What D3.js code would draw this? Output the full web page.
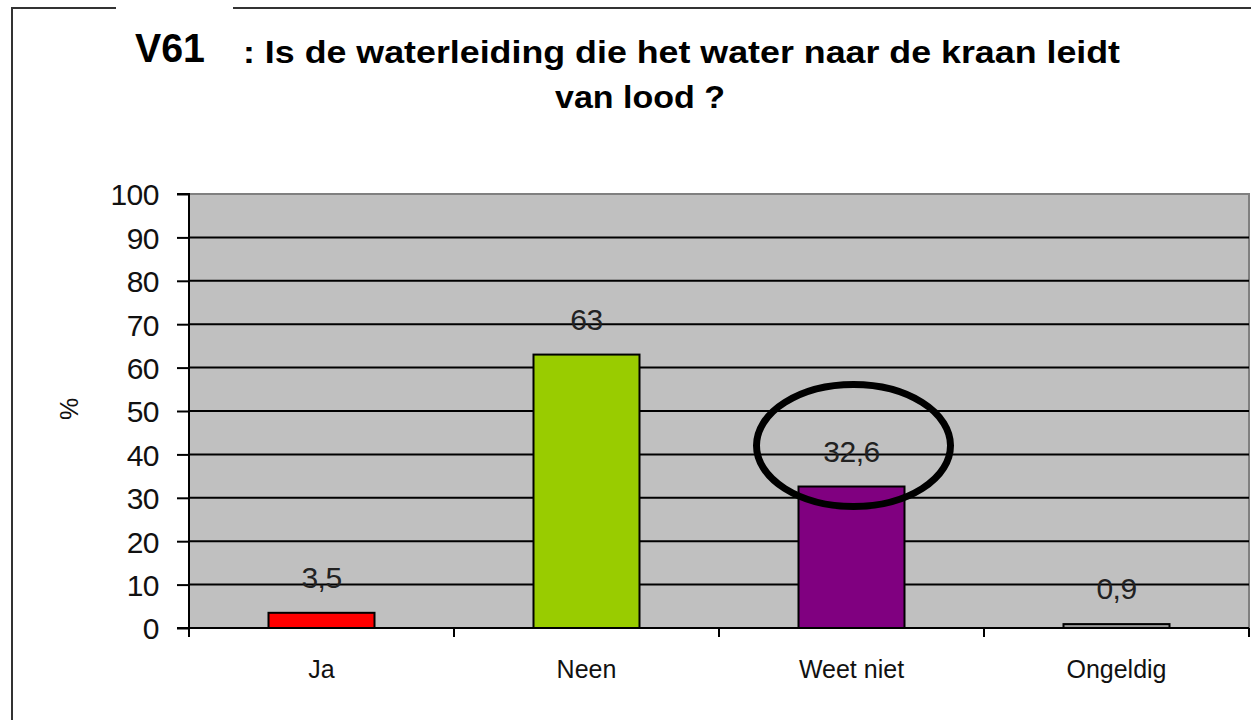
<!DOCTYPE html>
<html><head><meta charset="utf-8">
<script src="https://cdn.jsdelivr.net/npm/d3@7"></script>
<style>body{margin:0;background:#fff;}svg{display:block;}</style>
</head><body>
<script>
const categories = ["Ja", "Neen", "Weet niet", "Ongeldig"];
const values = [3.5, 63, 32.6, 0.9];
const valueLabels = ["3,5", "63", "32,6", "0,9"];
const barColors = ["#ff0000", "#99cc00", "#800080", "#999999"];
const yTicks = [0, 10, 20, 30, 40, 50, 60, 70, 80, 90, 100];
const highlighted = "Weet niet";

const W = 1251, H = 720;
const svg = d3.select("body").append("svg").attr("width", W).attr("height", H);
const font = "Arial, 'Liberation Sans', sans-serif";

// outer frame
svg.append("path").attr("d", `M12,${H} L12,8 L${W},8`).attr("fill", "none").attr("stroke", "#333").attr("stroke-width", 2);

const L = 189, R = 1249, T = 194, B = 628;
const x = d3.scaleBand().domain(categories).range([L, R]).paddingInner(0).paddingOuter(0);
const y = d3.scaleLinear().domain([0, 100]).range([B, T]);

// plot background
svg.append("rect").attr("x", L).attr("y", T).attr("width", R - L).attr("height", B - T)
  .attr("fill", "#c0c0c0").attr("stroke", "#808080").attr("stroke-width", 2);

// grid lines
svg.append("g").selectAll("line").data(yTicks.filter(d => d > 0 && d < 100)).join("line")
  .attr("x1", L).attr("x2", R).attr("y1", d => y(d)).attr("y2", d => y(d))
  .attr("stroke", "#000").attr("stroke-width", 2);

// bars
const bw = x.bandwidth() * 0.4;
svg.append("g").selectAll("rect").data(categories).join("rect")
  .attr("x", d => x(d) + (x.bandwidth() - bw) / 2)
  .attr("y", (d, i) => y(values[i]))
  .attr("width", bw)
  .attr("height", (d, i) => B - y(values[i]))
  .attr("fill", (d, i) => barColors[i])
  .attr("stroke", "#000").attr("stroke-width", 2);

// y axis
const yAxis = d3.axisLeft(y).tickValues(yTicks).tickSize(12).tickPadding(18);
const gy = svg.append("g").attr("transform", `translate(${L},0)`).call(yAxis);
gy.select(".domain").attr("stroke", "#000").attr("stroke-width", 2).attr("d", `M-12,${T}H0V${B + 8}`);
gy.selectAll(".tick line").attr("stroke", "#000").attr("stroke-width", 2);
gy.selectAll(".tick text").attr("font-family", font).attr("font-size", 30).attr("fill", "#111")
  .attr("dy", "0.36em").style("letter-spacing", "-0.5px");

// x axis
const gx = svg.append("g").attr("transform", `translate(0,${B})`);
gx.append("line").attr("x1", L - 12).attr("x2", R).attr("stroke", "#000").attr("stroke-width", 2);
const boundaries = categories.map(d => x(d)).concat([x(categories[categories.length - 1]) + x.bandwidth()]);
gx.selectAll("line.tk").data(boundaries).join("line").attr("class", "tk")
  .attr("x1", d => d).attr("x2", d => d).attr("y1", 0).attr("y2", 9)
  .attr("stroke", "#000").attr("stroke-width", 2);
gx.selectAll("text").data(categories).join("text")
  .attr("x", d => x(d) + x.bandwidth() / 2).attr("y", 50)
  .attr("text-anchor", "middle").attr("font-family", font).attr("font-size", 25).attr("fill", "#111")
  .text(d => d);

// value labels
svg.append("g").selectAll("text").data(categories).join("text")
  .attr("x", d => x(d) + x.bandwidth() / 2)
  .attr("y", (d, i) => y(values[i]) - 25)
  .attr("text-anchor", "middle").attr("font-family", font).attr("font-size", 30).attr("fill", "#222")
  .style("letter-spacing", "-0.5px")
  .text((d, i) => valueLabels[i]);

// y axis title
svg.append("text").attr("transform", `translate(78,409) rotate(-90)`)
  .attr("text-anchor", "middle").attr("font-family", font).attr("font-size", 25).attr("fill", "#111").text("%");

// highlight ellipse
const hi = categories.indexOf(highlighted);
svg.append("ellipse")
  .attr("cx", x(highlighted) + x.bandwidth() / 2 + 2)
  .attr("cy", y(values[hi]) - 41)
  .attr("rx", 97).attr("ry", 61)
  .attr("fill", "none").attr("stroke", "#000").attr("stroke-width", 7);

// title
svg.append("text").attr("x", 243).attr("y", 63).attr("font-family", font).attr("font-weight", "bold")
  .attr("font-size", 32).attr("fill", "#000").text(": Is de waterleiding die het water naar de kraan leidt")
  .attr("textLength", 877).attr("lengthAdjust", "spacingAndGlyphs");
svg.append("text").attr("x", 640).attr("y", 108).attr("text-anchor", "middle").attr("font-family", font).attr("font-weight", "bold")
  .attr("font-size", 32).attr("fill", "#000").text("van lood ?")
  .attr("textLength", 170).attr("lengthAdjust", "spacingAndGlyphs");

// V61 label box
svg.append("rect").attr("x", 116).attr("y", 7).attr("width", 117).attr("height", 73).attr("fill", "#fff");
svg.append("text").attr("x", 135).attr("y", 62).attr("font-family", font).attr("font-weight", "bold")
  .attr("font-size", 40).attr("fill", "#000").text("V61")
  .attr("textLength", 70).attr("lengthAdjust", "spacingAndGlyphs");
</script>
</body></html>
